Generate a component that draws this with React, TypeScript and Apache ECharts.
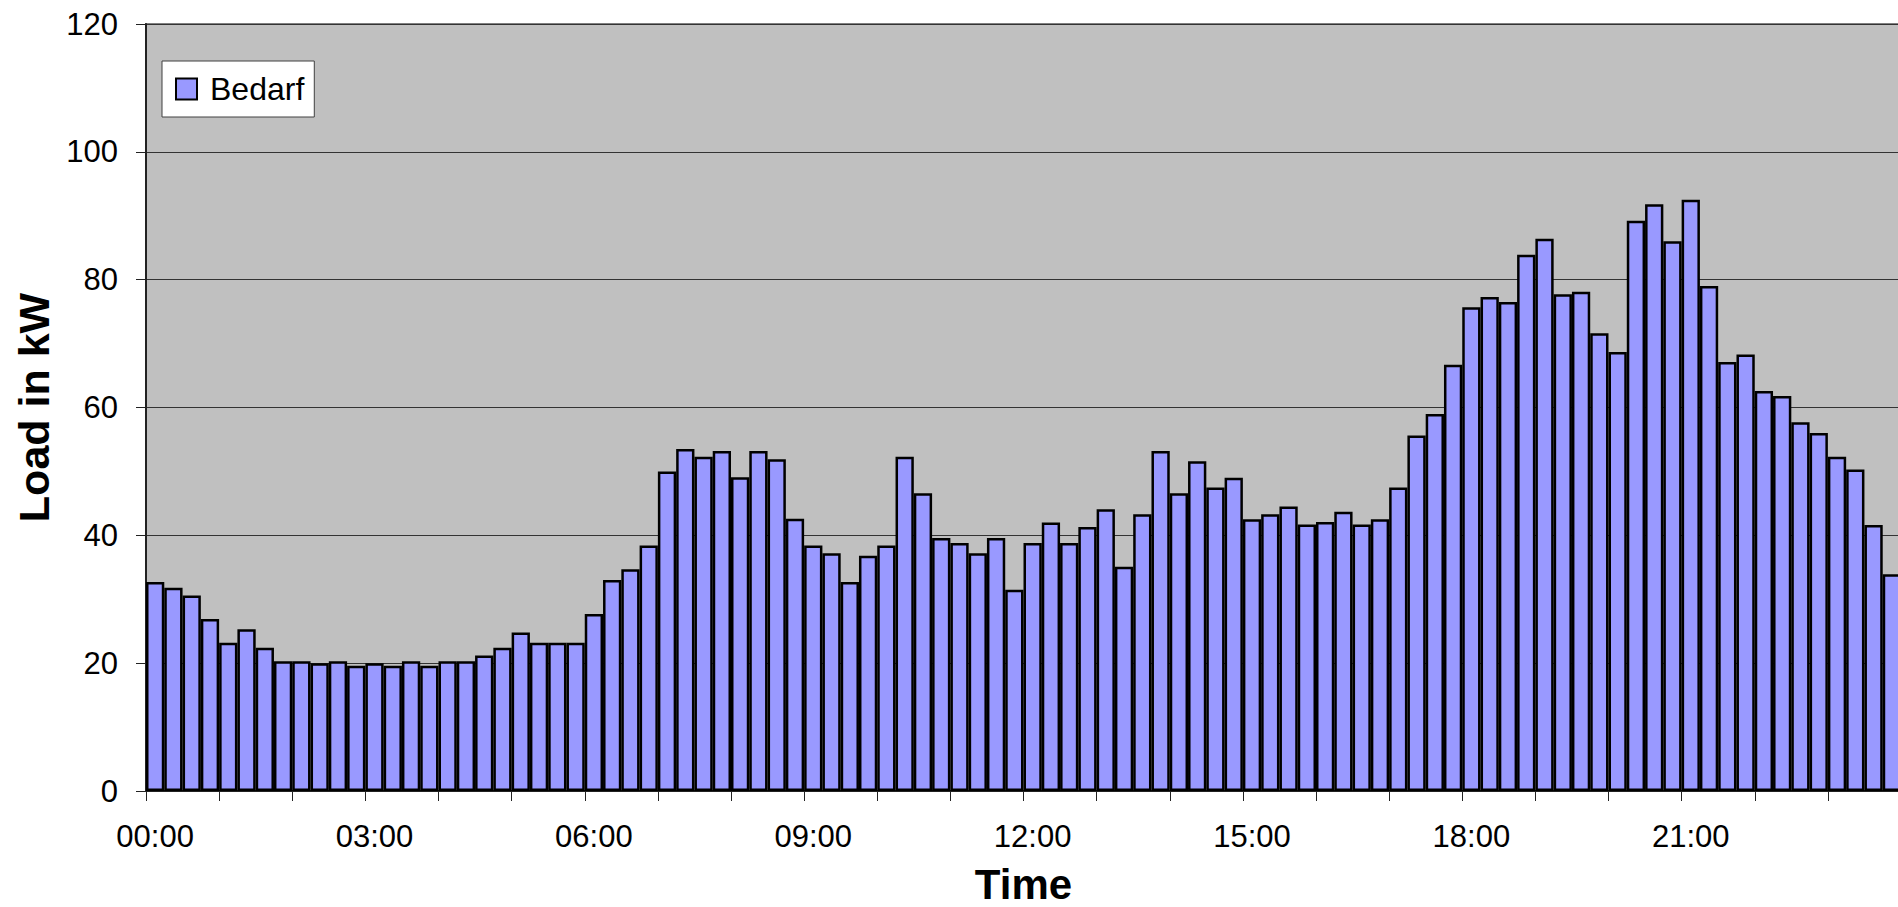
import React, { useEffect, useRef } from "react";
import * as echarts from "echarts";

const seriesName = "Bedarf";
const loadKW = [
  32.7, 31.8, 30.6, 26.9, 23.2, 25.3, 22.4, 20.3, 20.3, 20.0, 20.3, 19.6,
  20.0, 19.6, 20.3, 19.6, 20.3, 20.3, 21.2, 22.4, 24.8, 23.2, 23.2, 23.2,
  27.7, 33.0, 34.7, 38.4, 50.0, 53.5, 52.3, 53.2, 49.1, 53.2, 51.9, 42.6,
  38.4, 37.2, 32.7, 36.8, 38.4, 52.3, 46.6, 39.6, 38.8, 37.2, 39.6, 31.5,
  38.8, 42.0, 38.8, 41.3, 44.1, 35.1, 43.3, 53.2, 46.6, 51.6, 47.5, 49.0,
  42.5, 43.3, 44.5, 41.7, 42.1, 43.7, 41.7, 42.5, 47.5, 55.6, 59.0, 66.7,
  75.7, 77.3, 76.5, 83.9, 86.4, 77.7, 78.1, 71.6, 68.7, 89.2, 91.8, 86.0,
  92.5, 79.0, 67.1, 68.3, 62.6, 61.8, 57.7, 56.0, 52.3, 50.3, 41.6, 33.9,
];

// 15-minute slots over one day
const timeLabels: string[] = [];
for (let h = 0; h < 24; h++) {
  for (let m = 0; m < 60; m += 15) {
    timeLabels.push(String(h).padStart(2, "0") + ":" + String(m).padStart(2, "0"));
  }
}

const yTicks = [0, 20, 40, 60, 80, 100, 120];
const xTitle = "Time";
const yTitle = "Load in kW";

const FONT = "'Liberation Sans', Arial, sans-serif";

export default function App() {
  const ref = useRef<HTMLDivElement>(null);
  useEffect(() => {
    if (!ref.current) return;
    const chart = echarts.init(ref.current, null, { renderer: "svg" });
    chart.setOption({
      animation: false,
      backgroundColor: "#ffffff",
      textStyle: { fontFamily: FONT },
      grid: {
        left: 146,
        top: 24,
        right: -3,
        bottom: 116,
        containLabel: false,
        outerBoundsMode: "none",
        show: true,
        backgroundColor: "#C0C0C0",
        borderColor: "#808080",
        borderWidth: 2,
      },
      legend: {
        left: 162,
        top: 61,
        orient: "vertical",
        backgroundColor: "#ffffff",
        borderColor: "#404040",
        borderWidth: 1,
        borderRadius: 0,
        padding: [12, 10, 12, 13],
        itemWidth: 21,
        itemHeight: 21,
        icon: "rect",
        data: [
          {
            name: seriesName,
            itemStyle: { color: "#9999FF", borderColor: "#000000", borderWidth: 2 },
          },
        ],
        textStyle: {
          fontFamily: FONT,
          fontSize: 32,
          color: "#000000",
          padding: [0, 0, 0, 8],
        },
      },
      xAxis: {
        type: "category",
        data: timeLabels,
        boundaryGap: true,
        name: xTitle,
        nameLocation: "middle",
        nameGap: 72,
        nameTextStyle: { fontFamily: FONT, fontSize: 42, fontWeight: "bold", color: "#000" },
        axisLine: { show: true, lineStyle: { color: "#222", width: 2 } },
        axisTick: {
          show: true,
          alignWithLabel: false,
          interval: 3,
          length: 10,
          lineStyle: { color: "#222", width: 1 },
        },
        axisLabel: {
          interval: 11,
          margin: 30,
          fontFamily: FONT,
          fontSize: 31,
          color: "#000",
        },
        splitLine: { show: false },
      },
      yAxis: {
        type: "value",
        min: yTicks[0],
        max: yTicks[yTicks.length - 1],
        interval: 20,
        name: yTitle,
        nameLocation: "middle",
        nameGap: 88,
        nameTextStyle: { fontFamily: FONT, fontSize: 43, fontWeight: "bold", color: "#000" },
        axisLine: { show: true, lineStyle: { color: "#222", width: 2 } },
        axisTick: { show: true, inside: false, length: 10, lineStyle: { color: "#222", width: 1 } },
        axisLabel: { margin: 28, fontFamily: FONT, fontSize: 31, color: "#000" },
        splitLine: { show: true, lineStyle: { color: "#333333", width: 1 } },
      },
      series: [
        {
          name: seriesName,
          type: "bar",
          data: loadKW,
          barCategoryGap: "0%",
          itemStyle: { color: "#9999FF", borderColor: "#000000", borderWidth: 2.5 },
        },
      ],
    });
    return () => chart.dispose();
  }, []);
  return (
    <div
      ref={ref}
      style={{ position: "absolute", left: 0, top: 0, width: 1898, height: 907 }}
    />
  );
}
